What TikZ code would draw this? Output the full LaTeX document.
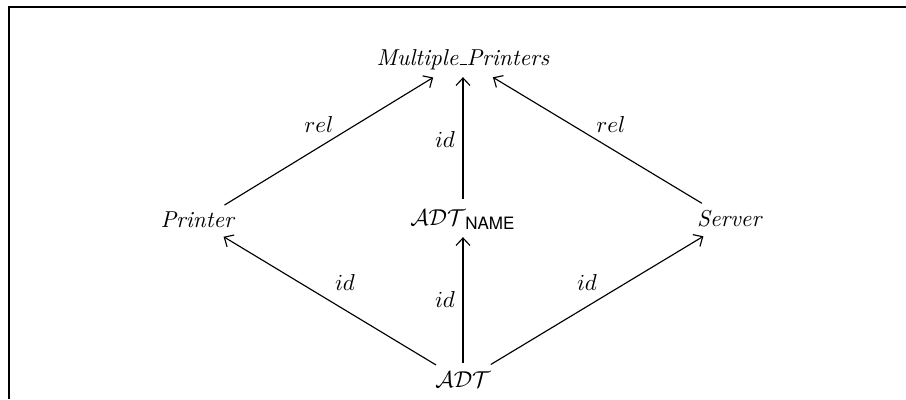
\documentclass[tikz,border=0pt]{standalone}
\usepackage{fontspec}
\newfontfamily\helv{TeX Gyre Heros}
\usetikzlibrary{arrows.meta}
\newcommand{\myus}{\leavevmode\kern.06em\vbox{\hrule width.3em height 0.5pt}}
\begin{document}
\begin{tikzpicture}[x=0.4348pt,y=-0.4348pt,
  obj/.style={anchor=base,inner sep=0pt,text height=7pt,text depth=2pt},
  lbl/.style={inner sep=0pt},
  arr/.style={line width=0.5pt,-{Straight Barb[length=3.2pt,width=6pt,line width=0.5pt]}},
  varr/.style={line width=1pt,-{Straight Barb[length=3.2pt,width=6pt,line width=0.5pt]}},
  frame/.style={line width=0.75pt}]
\useasboundingbox (0,0) rectangle (906,399);
\coordinate (fbl) at (9,399);
\coordinate (ftl) at (9,7);
\coordinate (ftr) at (906,7);
\draw[frame] (fbl) -- (ftl) -- (ftr);
\node[obj] (MP) at (463,65) {\textit{Multiple\myus Printers}};
\node[obj] (P) at (198,227) {\textit{Printer}};
\node[obj] (AN) at (463,225) {$\mathcal{ADT}_{\mbox{\helv\fontsize{7.4}{8}\selectfont NAME}}$};
\node[obj] (S) at (730,226) {\textit{Server}};
\node[obj] (A) at (463,387) {$\mathcal{ADT}$};
\draw[arr,shorten <=13.5pt,shorten >=15.2pt] (P.center) -- (MP.center);
\draw[arr,shorten <=14.3pt,shorten >=15.2pt] (S.center) -- (MP.center);
\draw[varr,shorten <=8.7pt,shorten >=7.8pt] (AN.center) -- (MP.center);
\draw[arr,shorten <=13.7pt,shorten >=13pt] (A.center) -- (P.center);
\draw[varr,shorten <=7.8pt,shorten >=7.8pt] (A.center) -- (AN.center);
\draw[arr,shorten <=14.1pt,shorten >=13.5pt] (A.center) -- (S.center);
\node[lbl] (l1) at (319,125) {$rel$};
\node[lbl] (l2) at (445,140) {$id$};
\node[lbl] (l3) at (611,125) {$rel$};
\node[lbl] (l4) at (345,283) {$id$};
\node[lbl] (l5) at (445,300) {$id$};
\node[lbl] (l6) at (587,283) {$id$};
\end{tikzpicture}
\end{document}
